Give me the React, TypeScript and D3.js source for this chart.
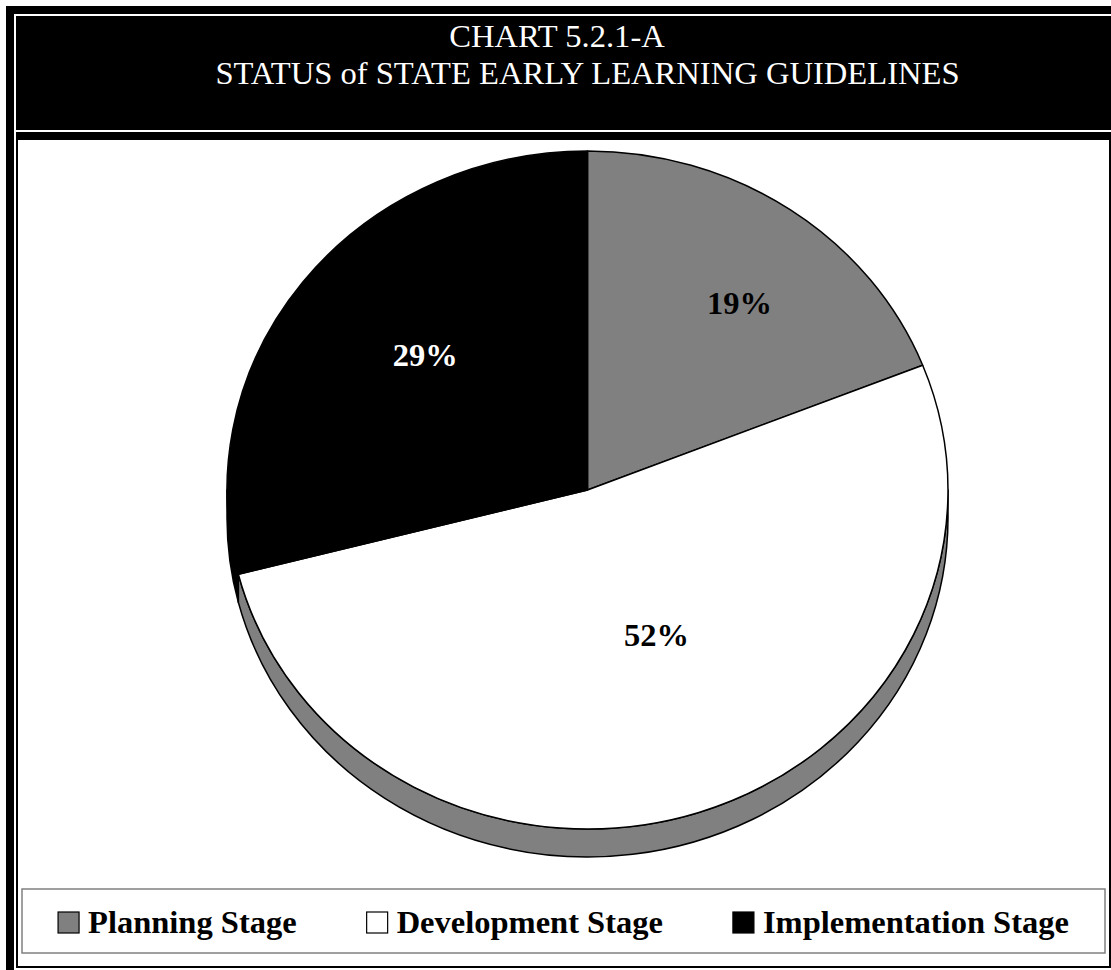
import React, { useMemo } from 'react';
import * as d3 from 'd3';

// ---- data ----
const categories = ['Planning Stage', 'Development Stage', 'Implementation Stage'];
const values = [19, 52, 29];
const valueLabels = ['19%', '52%', '29%'];
const titleLines = ['CHART 5.2.1-A', 'STATUS of STATE EARLY LEARNING GUIDELINES'];

// ---- styles ----
const topColors = ['#808080', '#ffffff', '#000000'];
const sideColors = ['#808080', '#808080', '#000000'];
const labelColors = ['#000000', '#000000', '#ffffff'];
const labelFx = [0.75, 0.62, 0.57];
const labelFy = [0.67, 0.45, 0.65];
const titleCenters = [557, 587.5];

const W = 1111;
const H = 970;
const cx = 587.5;
const cy = 490;
const rx = 360.5;
const ry = 339;
const depth = 28;
const FONT = "'Liberation Serif', 'Times New Roman', Times, serif";
const FS = 32.5;

function pt(t: number, dy = 0): [number, number] {
  return [cx + rx * Math.sin(t), cy - ry * Math.cos(t) + dy];
}

export default function App() {
  const arcs = useMemo(
    () =>
      d3
        .pie<number>()
        .sort(null)
        .value((d) => d)(values),
    []
  );

  const textWidths = useMemo(() => {
    const ctx = document.createElement('canvas').getContext('2d')!;
    ctx.font = `bold ${FS}px ${FONT}`;
    return categories.map((c) => ctx.measureText(c).width);
  }, []);

  const markerSize = 21;
  const markerGap = 9;
  const itemGap = 70;
  const legendBox = { x: 22, y: 889, w: 1083, h: 64 };
  const totalW =
    textWidths.reduce((s, w) => s + w + markerSize + markerGap, 0) + itemGap * (categories.length - 1);
  const legendCenter = legendBox.x + legendBox.w / 2;
  let lx = legendCenter - totalW / 2;
  const legendItems = categories.map((c, i) => {
    const item = { x: lx, name: c, i };
    lx += markerSize + markerGap + textWidths[i] + itemGap;
    return item;
  });

  const sides = arcs
    .map((a, i) => {
      const s0 = Math.max(a.startAngle, Math.PI / 2);
      const s1 = Math.min(a.endAngle, (3 * Math.PI) / 2);
      if (s1 <= s0) return null;
      const p0 = pt(s0);
      const p1 = pt(s1);
      const p0d = pt(s0, depth);
      const p1d = pt(s1, depth);
      const d = `M${p0[0]},${p0[1]}A${rx},${ry} 0 0 1 ${p1[0]},${p1[1]}L${p1d[0]},${p1d[1]}A${rx},${ry} 0 0 0 ${p0d[0]},${p0d[1]}Z`;
      return { d, i };
    })
    .filter(Boolean) as { d: string; i: number }[];

  const tops = arcs.map((a, i) => {
    const p0 = pt(a.startAngle);
    const p1 = pt(a.endAngle);
    const large = a.endAngle - a.startAngle > Math.PI ? 1 : 0;
    const d = `M${cx},${cy}L${p0[0]},${p0[1]}A${rx},${ry} 0 ${large} 1 ${p1[0]},${p1[1]}Z`;
    const mid = (a.startAngle + a.endAngle) / 2;
    const lxp = cx + labelFx[i] * rx * Math.sin(mid);
    const lyp = cy - labelFy[i] * ry * Math.cos(mid);
    return { d, i, lx: lxp, ly: lyp };
  });

  return (
    <svg
      width={W}
      height={H}
      viewBox={`0 0 ${W} ${H}`}
      style={{ position: 'absolute', left: 0, top: 0, display: 'block' }}
    >
      <rect x={0} y={0} width={W} height={H} fill="#ffffff" />
      {/* frame */}
      <rect x={6} y={6} width={W - 6} height={H - 6} fill="#000000" />
      <rect x={14} y={14} width={W - 14} height={H - 14} fill="#ffffff" />
      <rect x={16} y={16} width={W - 16} height={114} fill="#000000" />
      <rect x={16} y={132} width={W - 16} height={836} fill="#000000" />
      <rect x={18} y={140} width={1091} height={826} fill="#ffffff" />

      {/* title */}
      {titleLines.map((t, i) => (
        <text
          key={i}
          x={titleCenters[i]}
          y={47 + i * 37}
          textAnchor="middle"
          fill="#ffffff"
          fontFamily={FONT}
          fontSize={32.6}
        >
          {t}
        </text>
      ))}

      {/* pie sides */}
      {sides.map((s) => (
        <path key={`s${s.i}`} d={s.d} fill={sideColors[s.i]} stroke="#000000" strokeWidth={1.5} strokeLinejoin="round" />
      ))}
      {/* pie tops */}
      {tops.map((t) => (
        <path key={`t${t.i}`} d={t.d} fill={topColors[t.i]} stroke="#000000" strokeWidth={1.5} strokeLinejoin="round" />
      ))}
      {tops.map((t) => (
        <text
          key={`l${t.i}`}
          x={t.lx}
          y={t.ly}
          dy="0.35em"
          textAnchor="middle"
          fill={labelColors[t.i]}
          fontFamily={FONT}
          fontWeight="bold"
          fontSize={FS}
        >
          {valueLabels[t.i]}
        </text>
      ))}

      {/* legend */}
      <rect
        x={legendBox.x}
        y={legendBox.y}
        width={legendBox.w}
        height={legendBox.h}
        fill="#ffffff"
        stroke="#808080"
        strokeWidth={1.5}
      />
      {legendItems.map((it) => (
        <g key={it.name}>
          <rect
            x={it.x}
            y={912}
            width={markerSize}
            height={markerSize}
            fill={topColors[it.i]}
            stroke="#000000"
            strokeWidth={1.2}
          />
          <text
            x={it.x + markerSize + markerGap}
            y={933}
            fill="#000000"
            fontFamily={FONT}
            fontWeight="bold"
            fontSize={FS}
          >
            {it.name}
          </text>
        </g>
      ))}
    </svg>
  );
}
